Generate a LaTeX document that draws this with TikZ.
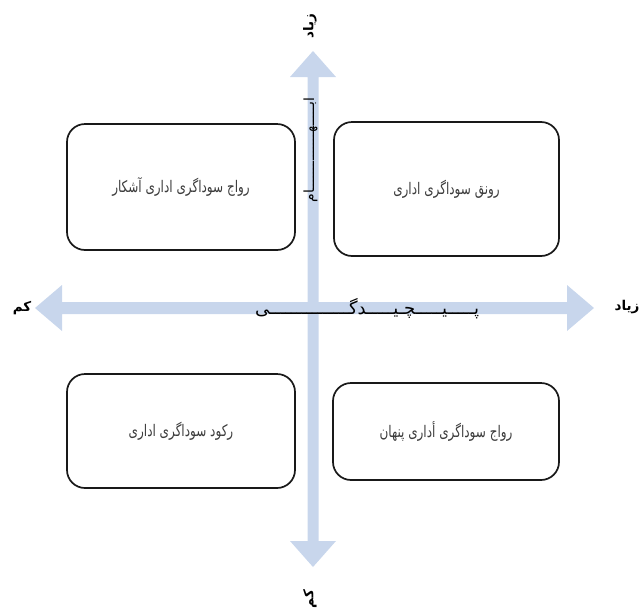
\documentclass[tikz,border=0pt]{standalone}
\usepackage{fontspec}
\TeXXeTstate=1
\newfontfamily\arabicfont[Script=Arabic]{DejaVu Sans}
\newfontfamily\boxfont[Script=Arabic, FakeStretch=0.75]{DejaVu Sans}
\definecolor{axisblue}{RGB}{200,214,236}
\definecolor{txtgray}{RGB}{60,60,60}
\tikzset{
  quadbox/.style={draw=black!90, line width=1.7pt, rounded corners=18pt, fill=white,
    inner sep=0pt, text=txtgray, font=\boxfont\fontsize{16}{18}\selectfont},
  axislbl/.style={inner sep=0pt, font=\arabicfont\bfseries\fontsize{13.5}{15}\selectfont},
  axisfill/.style={fill=axisblue, draw=none}
}
\begin{document}
\begin{tikzpicture}[x=1pt,y=-1pt]
\useasboundingbox (0,0) rectangle (641,611);
% axis end points
\coordinate (hL) at (35,308);
\coordinate (hR) at (594,308);
\coordinate (vT) at (313,51);
\coordinate (vB) at (313,567);
% horizontal block arrow
\fill[axisfill] (hL) -- (62,285) -- (62,302) -- (567,302) -- (567,285) -- (hR)
  -- (567,331) -- (567,314) -- (62,314) -- (62,331) -- cycle;
% vertical block arrow
\fill[axisfill] (vT) -- (336,77) -- (318.5,77) -- (318.5,541) -- (336,541) -- (vB)
  -- (290,541) -- (307.5,541) -- (307.5,77) -- (290,77) -- cycle;
% boxes
\node[quadbox, minimum width=228pt, minimum height=126pt] (tl) at (181,187)
  {\beginR رواج سوداگری اداری  آشکار\endR};
\node[quadbox, minimum width=225pt, minimum height=134pt] (tr) at (446.5,189)
  {\beginR رونق سوداگری اداری\endR};
\node[quadbox, minimum width=228pt, minimum height=114pt] (bl) at (181,431)
  {\beginR رکود سوداگری اداری\endR};
\node[quadbox, minimum width=226pt, minimum height=97pt] (br) at (446,431.5)
  {\beginR رواج سوداگری أداری پنهان\endR};
% axis labels
\node[axislbl, rotate=90] (topl) at (310,26) {\beginR زیاد\endR};
\node[axislbl, rotate=90] (botl) at (310,599) {\beginR کم\endR};
\node[axislbl] (leftl) at (22,308) {\beginR کم\endR};
\node[axislbl] (rightl) at (627,307) {\beginR زیاد\endR};
% axis titles
\node[inner sep=0pt, anchor=base, font=\arabicfont\fontsize{18}{20}\selectfont] (cx) at (367,314)
  {\beginR پـــــیـــــچـیـــــدگـــــــــــــــی\endR};
\node[inner sep=0pt, anchor=base, rotate=90, font=\arabicfont\fontsize{14}{16}\selectfont] (amb) at (314,150)
  {\beginR ابـــــهــــــــــــــام\endR};
\end{tikzpicture}
\end{document}
